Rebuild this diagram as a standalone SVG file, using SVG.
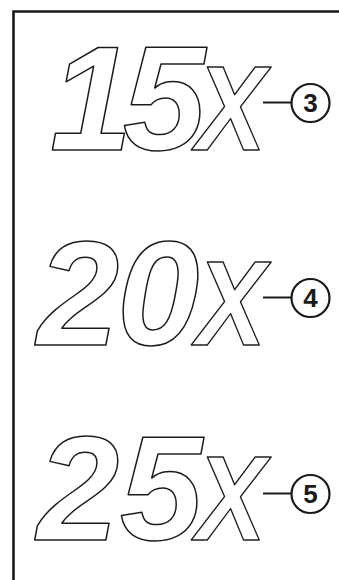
<svg xmlns="http://www.w3.org/2000/svg" width="339" height="580" viewBox="0 0 339 580">
<style>
.big{font-family:"Liberation Sans",Arial,sans-serif;font-style:italic;font-weight:bold;fill:#fff;stroke:#1a1a1a;stroke-width:1.5;stroke-linejoin:round}
.dig{font-size:148px}
.x{font-size:121px}
.lead{stroke:#1a1a1a;stroke-width:2;fill:none}
.circ{fill:#fff;stroke:#1a1a1a;stroke-width:2.2}
.num{font-family:"Liberation Sans",Arial,sans-serif;font-weight:bold;font-size:26px;fill:#1a1a1a;text-anchor:middle}
</style>
<rect width="339" height="580" fill="#fff"/>
<path d="M13.5,590 V11.5 H345" fill="none" stroke="#1a1a1a" stroke-width="2.6"/>
<g id="label-15x">
<text class="big" y="150"><tspan class="dig" x="50">1</tspan><tspan class="dig" x="123">5</tspan><tspan class="x" x="196" textLength="70" lengthAdjust="spacingAndGlyphs">X</tspan></text>
</g>
<g id="label-20x">
<text class="big" y="345"><tspan class="dig" x="37">2</tspan><tspan class="dig" x="117">0</tspan><tspan class="x" x="196" textLength="70" lengthAdjust="spacingAndGlyphs">X</tspan></text>
</g>
<g id="label-25x">
<text class="big" y="540"><tspan class="dig" x="37">2</tspan><tspan class="dig" x="120">5</tspan><tspan class="x" x="196" textLength="70" lengthAdjust="spacingAndGlyphs">X</tspan></text>
</g>
<g id="connectors">
<line class="lead" x1="263" y1="102.5" x2="291" y2="102.5"/>
<line class="lead" x1="263" y1="297.5" x2="291" y2="297.5"/>
<line class="lead" x1="263" y1="493.5" x2="291" y2="493.5"/>
</g>
<g id="callout-3"><circle class="circ" cx="310.5" cy="103" r="19"/><text class="num" x="310.5" y="112.3">3</text></g>
<g id="callout-4"><circle class="circ" cx="310.5" cy="298" r="19"/><text class="num" x="310.5" y="307.3">4</text></g>
<g id="callout-5"><circle class="circ" cx="310.5" cy="494" r="19"/><text class="num" x="310.5" y="503.3">5</text></g>
</svg>
